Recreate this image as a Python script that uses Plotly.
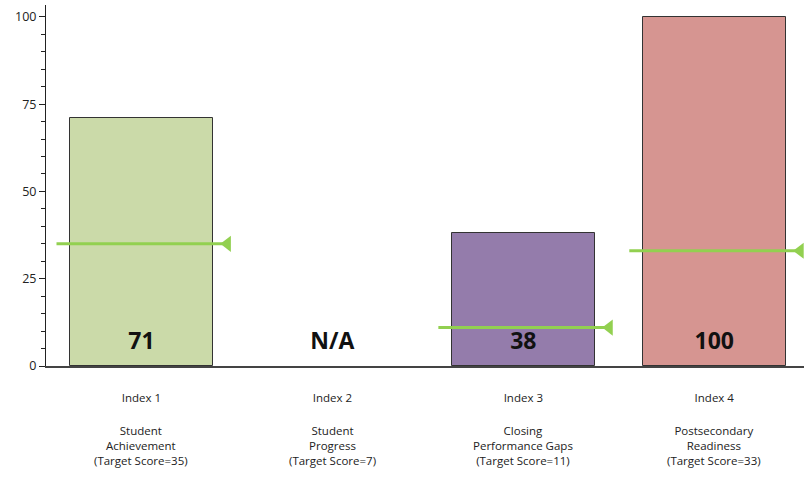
import plotly.graph_objects as go

index_names = ["Index 1", "Index 2", "Index 3", "Index 4"]
index_titles = ["Student<br>Achievement", "Student<br>Progress", "Closing<br>Performance Gaps", "Postsecondary<br>Readiness"]
target_scores = [35, 7, 11, 33]
scores = [71, None, 38, 100]
score_labels = ["71", "N/A", "38", "100"]
target_lines = [35, None, 11, 33]
bar_colors = ["#cbdaa9", "#ffffff", "#947cab", "#d69591"]

xs = list(range(len(index_names)))

fig = go.Figure()
fig.add_trace(go.Bar(
    x=xs, y=scores, width=0.75,
    marker=dict(color=bar_colors, line=dict(color="#333333", width=1)),
    hoverinfo="skip", showlegend=False,
))

for i, t in enumerate(target_lines):
    if t is None:
        continue
    fig.add_trace(go.Scatter(
        x=[i - 0.445, i + 0.45], y=[t, t], mode="lines",
        line=dict(color="#92d050", width=3), showlegend=False, hoverinfo="skip",
    ))
    fig.add_trace(go.Scatter(
        x=[i + 0.45], y=[t], mode="markers",
        marker=dict(symbol="triangle-left", size=14, color="#92d050"),
        showlegend=False, hoverinfo="skip",
    ))

fig.add_trace(go.Scatter(
    x=xs, y=[6.6] * len(xs), mode="text", text=score_labels,
    textfont=dict(family="Open Sans", size=23, color="#111111", weight="bold"),
    showlegend=False, hoverinfo="skip", cliponaxis=False,
))

for i, (title, target) in enumerate(zip(index_titles, target_scores)):
    fig.add_annotation(
        x=i, xref="x", y=-0.152, yref="paper", yanchor="top", xanchor="center",
        text=f"{title}<br>(Target Score={target})", showarrow=False,
        font=dict(family="Open Sans", size=11.5, color="#222222"),
    )

fig.update_layout(
    width=804, height=477,
    margin=dict(l=46, r=0, t=5, b=111),
    paper_bgcolor="white", plot_bgcolor="white",
    font=dict(family="Open Sans", size=12, color="#222222"),
    bargap=0,
)
fig.update_xaxes(
    range=[-0.5, 3.47], tickvals=xs, ticktext=index_names, automargin=False,
    showline=True, linecolor="#444444", linewidth=1.5,
    ticks="outside", ticklen=20, tickcolor="rgba(0,0,0,0)",
    showgrid=False, zeroline=False, tickfont=dict(size=11.5),
)
fig.update_yaxes(
    range=[0, 103.4], tickvals=[0, 25, 50, 75, 100], automargin=False,
    showline=True, linecolor="#222222", linewidth=1,
    ticks="outside", ticklen=6, tickcolor="#222222",
    minor=dict(dtick=5, ticks="outside", ticklen=4, tickcolor="#222222"),
    showgrid=False, zeroline=False, tickfont=dict(size=12.5),
)

fig.write_html("out.html", config={"displayModeBar": False},
               post_script="document.body.style.margin='0';document.body.style.overflow='hidden';")
